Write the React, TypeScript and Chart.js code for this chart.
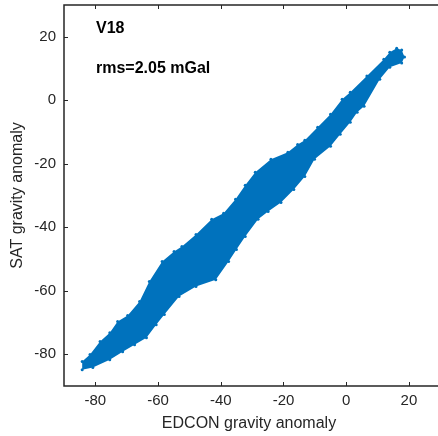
import React, { useEffect, useRef } from 'react';
import { Chart, registerables } from 'chart.js';

Chart.register(...registerables);

// Upper-left edge of the point cloud (EDCON, SAT), left to right
const upperX = [-84.2, -81.7, -78.5, -75.4, -72.9, -69.7, -65.9, -62.8, -58.7, -54.9, -52.4, -47.9, -42.9, -39.1, -35.3, -32.2, -29.0, -24.0, -18.6, -15.5, -13.2, -9.1, -5.0, -1.3, 1.3, 6.6, 12.0, 13.9, 16.1, 17.7];
const upperY = [-82.3, -80.1, -76.0, -73.2, -69.7, -67.8, -63.4, -57.1, -50.8, -47.6, -46.1, -42.3, -37.5, -35.6, -31.2, -26.8, -22.7, -18.6, -16.4, -13.9, -12.6, -8.5, -4.4, 0.3, 2.5, 7.6, 12.9, 15.1, 16.4, 15.8];
// Lower-right edge of the point cloud, right to left
const lowerX = [18.6, 17.7, 13.9, 10.7, 5.7, 3.5, 1.3, -1.9, -5.0, -10.1, -13.2, -16.7, -20.8, -24.9, -28.1, -32.2, -35.0, -37.5, -41.6, -47.9, -53.3, -58.0, -60.6, -63.7, -67.5, -71.3, -75.4, -80.8, -84.2];
const lowerY = [13.6, 11.7, 10.4, 6.6, -1.9, -3.8, -6.9, -10.7, -14.5, -18.6, -24.0, -28.1, -32.2, -35.0, -37.5, -42.9, -47.0, -50.8, -56.5, -58.7, -61.8, -67.5, -70.7, -74.8, -77.0, -79.2, -81.7, -84.2, -84.9];

const xTicks = [-80, -60, -40, -20, 0, 20];
const yTicks = [-80, -60, -40, -20, 0, 20];
const xMin = -90;
const xMax = 28;
const yMin = -90;
const yMax = 30;

const panelLabel = 'V18';
const rmsLabel = 'rms=2.05 mGal';
const xTitle = 'EDCON gravity anomaly';
const yTitle = 'SAT gravity anomaly';

const BLUE = '#0072BD';
const AXIS = '#262626';
const FONT = '"Liberation Sans", Arial, Helvetica, sans-serif';

const framePlugin = {
  id: 'matlabFrame',
  afterDraw(chart: any) {
    const { ctx, chartArea: a, scales } = chart;
    ctx.save();
    ctx.strokeStyle = AXIS;
    ctx.lineWidth = 1.5;
    ctx.beginPath();
    ctx.moveTo(a.right + 5, a.top);
    ctx.lineTo(a.left, a.top);
    ctx.lineTo(a.left, a.bottom);
    ctx.lineTo(a.right + 5, a.bottom);
    ctx.stroke();
    ctx.lineWidth = 1;
    ctx.beginPath();
    for (const v of xTicks) {
      const px = Math.round(scales.x.getPixelForValue(v)) + 0.5;
      ctx.moveTo(px, a.bottom);
      ctx.lineTo(px, a.bottom - 4);
      ctx.moveTo(px, a.top);
      ctx.lineTo(px, a.top + 4);
    }
    for (const v of yTicks) {
      const py = Math.round(scales.y.getPixelForValue(v)) + 0.5;
      ctx.moveTo(a.left, py);
      ctx.lineTo(a.left + 4, py);
    }
    ctx.stroke();
    ctx.fillStyle = '#000';
    ctx.font = 'bold 16px ' + FONT;
    ctx.textAlign = 'left';
    ctx.textBaseline = 'alphabetic';
    ctx.fillText(panelLabel, a.left + 32, a.top + 28);
    ctx.fillText(rmsLabel, a.left + 32, a.top + 68);
    ctx.restore();
  },
};

export default function App() {
  const ref = useRef<HTMLCanvasElement | null>(null);

  useEffect(() => {
    if (!ref.current) return;
    const outline = [
      ...upperX.map((x, i) => ({ x, y: upperY[i] })),
      ...lowerX.map((x, i) => ({ x, y: lowerY[i] })),
    ];
    const chart = new Chart(ref.current, {
      type: 'line',
      data: {
        datasets: [
          {
            data: outline,
            borderWidth: 0,
            borderColor: BLUE,
            backgroundColor: BLUE,
            pointRadius: 0,
            fill: 'shape',
            tension: 0,
          } as any,
          {
            data: outline,
            showLine: false,
            pointRadius: 1.5,
            pointBorderWidth: 0,
            pointBackgroundColor: BLUE,
            borderColor: BLUE,
          } as any,
        ],
      },
      options: {
        animation: false,
        responsive: false,
        maintainAspectRatio: false,
        layout: { padding: { top: 5, right: 0, left: 0, bottom: 0 } },
        plugins: { legend: { display: false }, tooltip: { enabled: false } },
        scales: {
          x: {
            type: 'linear',
            min: xMin,
            max: xMax,
            afterBuildTicks: (s: any) => {
              s.ticks = xTicks.map((v) => ({ value: v }));
            },
            afterFit: (s: any) => {
              s.height = 50;
              s.paddingLeft = 0;
              s.paddingRight = 0;
            },
            grid: { display: false, drawTicks: false },
            border: { display: false },
            ticks: { padding: 6, color: AXIS, font: { size: 15, family: FONT } },
            title: {
              display: true,
              text: xTitle,
              color: AXIS,
              font: { size: 16, family: FONT },
              padding: { top: 0, bottom: 3 },
            },
          },
          y: {
            type: 'linear',
            min: yMin,
            max: yMax,
            afterBuildTicks: (s: any) => {
              s.ticks = yTicks.map((v) => ({ value: v }));
            },
            afterFit: (s: any) => {
              s.width = 64;
              s.paddingTop = 0;
              s.paddingBottom = 0;
            },
            grid: { display: false, drawTicks: false },
            border: { display: false },
            ticks: { padding: 8, color: AXIS, font: { size: 15, family: FONT } },
            title: {
              display: true,
              text: yTitle,
              color: AXIS,
              font: { size: 16, family: FONT },
              padding: { top: 8, bottom: 0 },
            },
          },
        },
      } as any,
      plugins: [framePlugin],
    });
    return () => chart.destroy();
  }, []);

  return (
    <div style={{ position: 'fixed', left: 0, top: 0, width: 438, height: 436, background: '#fff' }}>
      <canvas ref={ref} width={438} height={436} style={{ width: 438, height: 436 }} />
    </div>
  );
}
